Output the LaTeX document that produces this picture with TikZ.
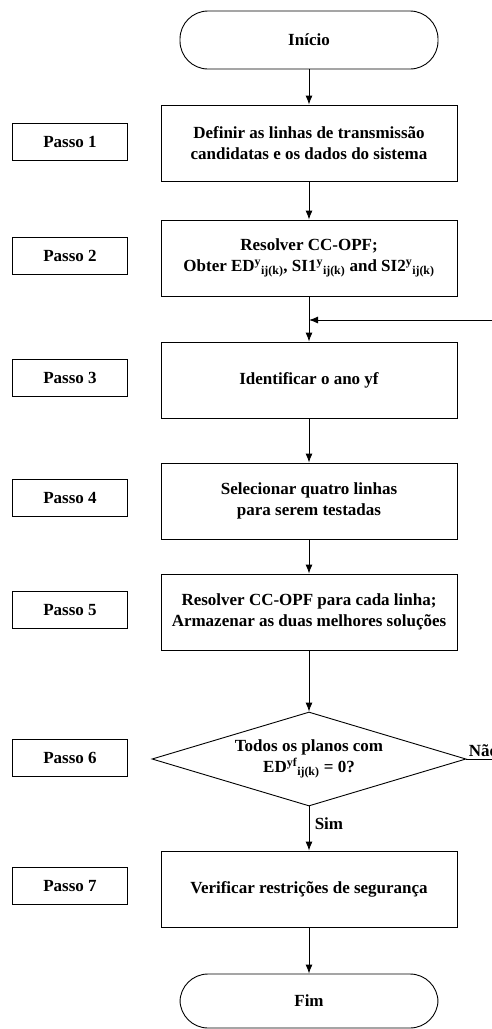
\documentclass[tikz,border=0pt]{standalone}
\usepackage{fontspec}
\setmainfont{Liberation Serif}
\usetikzlibrary{shapes.geometric,arrows.meta}

\begin{document}
\begin{tikzpicture}[x=1pt, y=-1pt, line width=0.9pt, font=\fontsize{17}{21}\selectfont\bfseries,
    boxStyle/.style={rectangle, draw, minimum width=296pt, minimum height=76pt, align=center, inner sep=2pt},
    passoStyle/.style={rectangle, draw, minimum width=115pt, minimum height=37pt},
    termStyle/.style={rectangle, draw, rounded corners=28pt, minimum width=258pt, minimum height=58pt},
    decisionStyle/.style={diamond, draw, aspect=3.3, minimum width=314pt, minimum height=94pt, inner sep=0pt, align=center},
    arrowStyle/.style={-{Latex[length=9pt, width=7pt]}}]
    \useasboundingbox (0,0) rectangle (492,1029);

    \node[termStyle] (inicio) at (309, 40) {Início};

    \node[boxStyle] (box_1) at (309, 143) {Definir as linhas de transmissão\\candidatas e os dados do sistema};
    \node[boxStyle] (box_2) at (309, 258) {Resolver CC-OPF;\\Obter ED\textsuperscript{y}\textsubscript{ij(k)}, SI1\textsuperscript{y}\textsubscript{ij(k)} and SI2\textsuperscript{y}\textsubscript{ij(k)}};
    \node[boxStyle] (box_3) at (309, 380) {Identificar o ano yf};
    \node[boxStyle] (box_4) at (309, 501) {Selecionar quatro linhas\\para serem testadas};
    \node[boxStyle] (box_5) at (309, 612) {Resolver CC-OPF para cada linha;\\Armazenar as duas melhores soluções};
    \node[decisionStyle] (box_6) at (309, 759) {Todos os planos com\\ED\textsuperscript{yf}\textsubscript{ij(k)} = 0?};
    \node[boxStyle] (box_7) at (309, 889) {Verificar restrições de segurança};

    \node[termStyle, minimum height=54pt] (fim) at (309, 1001) {Fim};

    \node[passoStyle] (passo_1) at (70, 142) {Passo 1};
    \node[passoStyle] (passo_2) at (70, 256) {Passo 2};
    \node[passoStyle] (passo_3) at (70, 378) {Passo 3};
    \node[passoStyle] (passo_4) at (70, 498) {Passo 4};
    \node[passoStyle] (passo_5) at (70, 610) {Passo 5};
    \node[passoStyle] (passo_6) at (70, 758) {Passo 6};
    \node[passoStyle] (passo_7) at (70, 886) {Passo 7};

    \coordinate (loop_in) at (309, 320);
    \coordinate (loop_R) at (494, 320);
    \coordinate (nao_R) at (494, 759);

    \draw[arrowStyle] (inicio.south) -- (box_1.north);
    \draw[arrowStyle] (box_1.south) -- (box_2.north);
    \draw[arrowStyle] (box_2.south) -- (box_3.north);
    \draw[arrowStyle] (loop_R) -- (loop_in);
    \draw[arrowStyle] (box_3.south) -- (box_4.north);
    \draw[arrowStyle] (box_4.south) -- (box_5.north);
    \draw[arrowStyle] (box_5.south) -- (box_6.north);
    \draw[arrowStyle] (box_6.south) -- node[right, pos=0.4, xshift=2pt] (sim) {Sim} (box_7.north);
    \draw (box_6.east) -- node[pos=0.0, anchor=south west, inner sep=2pt] (nao) {Não} (nao_R);
    \draw[arrowStyle] (box_7.south) -- (fim.north);
\end{tikzpicture}
\end{document}
